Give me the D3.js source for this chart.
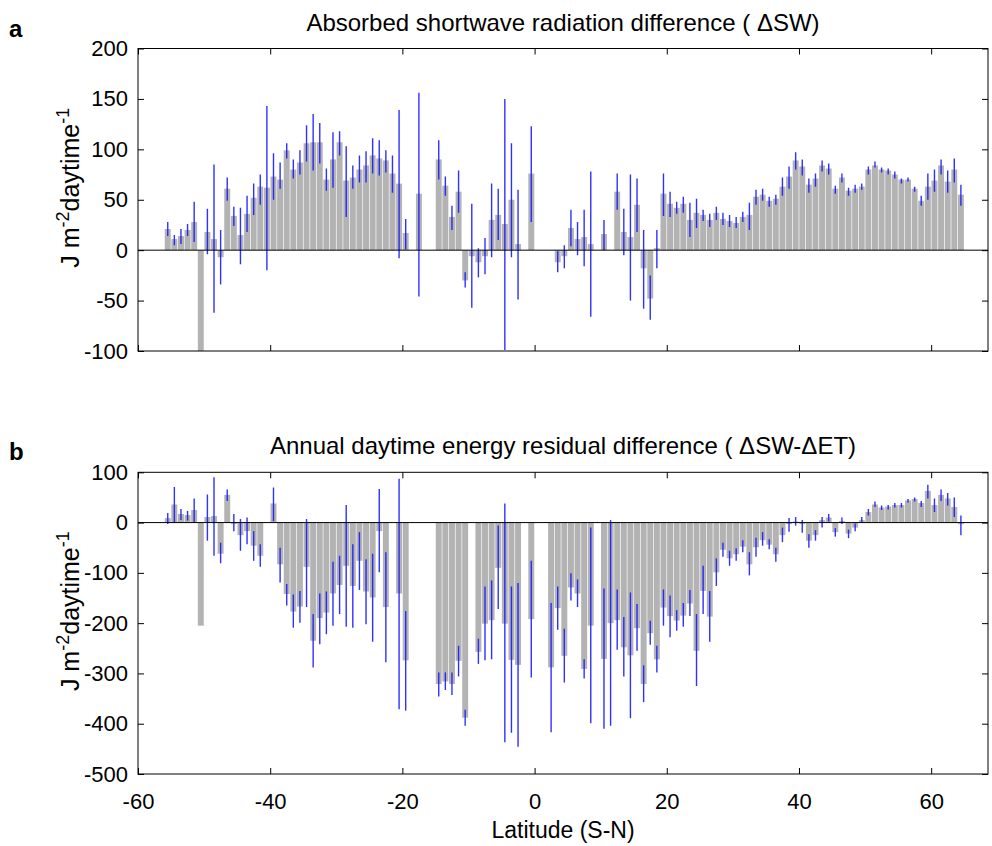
<!DOCTYPE html>
<html><head><meta charset="utf-8">
<script src="https://cdn.jsdelivr.net/npm/d3@7"></script>
<style>
body{margin:0;background:#fff;}
text{font-family:"Liberation Sans", Arial, Helvetica, sans-serif;fill:#000;}
</style>
</head><body>
<svg id="chart" width="992" height="846"></svg>
<script>
const latitudes = [-55.5,-54.5,-53.5,-52.5,-51.5,-50.5,-49.5,-48.5,-47.5,-46.5,
 -45.5,-44.5,-43.5,-42.5,-41.5,-40.5,-39.5,-38.5,-37.5,-36.5,
 -35.5,-34.5,-33.5,-32.5,-31.5,-30.5,-29.5,-28.5,-27.5,-26.5,
 -25.5,-24.5,-23.5,-22.5,-21.5,-20.5,-19.5,-18.5,-17.5,-16.5,
 -15.5,-14.5,-13.5,-12.5,-11.5,-10.5,-9.5,-8.5,-7.5,-6.5,
 -5.5,-4.5,-3.5,-2.5,-1.5,-0.5,0.5,1.5,2.5,3.5,
 4.5,5.5,6.5,7.5,8.5,9.5,10.5,11.5,12.5,13.5,
 14.5,15.5,16.5,17.5,18.5,19.5,20.5,21.5,22.5,23.5,
 24.5,25.5,26.5,27.5,28.5,29.5,30.5,31.5,32.5,33.5,
 34.5,35.5,36.5,37.5,38.5,39.5,40.5,41.5,42.5,43.5,
 44.5,45.5,46.5,47.5,48.5,49.5,50.5,51.5,52.5,53.5,
 54.5,55.5,56.5,57.5,58.5,59.5,60.5,61.5,62.5,63.5,
 64.5];

// Panel a: absorbed shortwave radiation difference
const swValues = [21,11,14,20,28,-100,18,11,-7,61,
 34,15,36,52,63,62,73,70,99,80,
 87,106,107,107,70,90,107,69,72,80,
 84,94,91,89,76,66,17,null,56,null,
 null,90,64,33,58,-30,-6,-12,-6,30,
 35,26,50,6,null,76,null,null,null,-12,
 -6,22,11,13,6,null,16,null,58,18,
 13,45,-18,-48,2,56,46,42,46,30,
 37,35,30,37,31,29,27,33,35,53,
 55,49,51,63,73,89,83,65,71,84,
 81,61,72,59,61,63,80,84,80,79,
 75,70,70,61,49,63,69,84,68,80,
 55];
const swUpper = [28,15,21,26,48,null,41,85,20,72,
 43,42,54,66,75,143,96,87,106,90,
 99,124,135,126,81,117,118,103,84,94,
 98,111,109,99,94,139,31,null,156,null,
 null,109,73,44,79,-22,46,2,12,66,
 61,150,106,60,null,123,null,null,null,-1,
 5,40,28,40,78,null,30,null,76,41,
 75,71,20,-25,20,76,58,48,53,47,
 51,40,36,43,37,35,33,38,47,60,
 61,53,55,72,83,97,90,71,76,89,
 86,64,76,62,65,66,83,88,82,81,
 78,71,72,63,54,76,80,90,79,91,
 65];
const swLower = [14,5,6,14,8,null,-4,-62,-34,49,
 24,-14,18,35,45,-20,50,61,91,71,
 75,88,79,86,59,62,94,33,61,67,
 67,76,74,77,57,-8,1,null,-46,null,
 null,70,54,20,37,-37,-57,-27,-24,-7,
 10,-99,-7,-49,null,28,null,null,null,-22,
 -18,4,-5,-16,-66,null,0,null,40,-5,
 -50,18,-58,-69,-18,34,33,36,37,13,
 22,29,23,30,25,23,22,28,20,45,
 49,43,45,54,61,80,74,57,63,78,
 75,56,67,54,57,60,75,82,77,75,
 71,66,68,58,44,50,58,75,57,67,
 44];

// Panel b: annual daytime energy residual difference
const resValues = [9,36,17,15,25,-205,11,13,-62,55,
 -3,-25,-17,-46,-66,null,38,-83,-142,-177,
 -167,-88,-235,-190,-179,-141,-124,-86,-126,-76,
 -137,-149,-17,-168,null,-141,-274,null,null,null,
 null,-321,-316,-321,-275,-388,null,-257,-201,-194,
 -90,-201,-273,-283,null,-192,null,null,-288,-170,
 -265,-129,-141,-291,-205,null,-271,-200,-194,-248,
 -264,-210,-321,-220,-272,-169,-186,-195,-185,-161,
 -255,-136,-187,-99,-54,-71,-63,-48,-83,-49,
 -35,-44,-63,-25,-3,2,-3,-36,-25,5,
 10,-19,3,-22,-10,5,21,36,30,32,
 35,35,44,47,39,63,35,55,48,31,
 -3];
const resUpper = [19,71,27,23,48,null,56,90,-40,66,
 17,7,10,-17,-43,null,70,-50,-122,-143,
 -136,7,-182,-141,-137,-78,-66,35,-43,-19,
 -73,-62,67,-59,null,87,-176,null,null,null,
 null,-298,-298,-298,-245,-372,null,-231,-127,-115,
 -6,38,-127,-120,null,-76,null,null,-160,-127,
 -211,-101,-113,-272,-10,null,-131,5,-133,-188,
 -139,-162,-284,-195,-245,-133,-145,-174,-160,-134,
 -182,-86,-136,-71,-40,-56,-51,-35,-59,-30,
 -19,-33,-50,-10,9,11,5,-23,-15,11,
 17,-11,10,-14,-2,11,27,42,34,35,
 39,39,47,50,43,75,48,66,59,50,
 14];
const resLower = [-3,0,5,4,0,null,-36,-66,-81,43,
 -17,-56,-43,-76,-88,null,3,-119,-165,-209,
 -199,-168,-288,-242,-222,-205,-182,-207,-209,-134,
 -202,-237,-99,-278,null,-371,-374,null,null,null,
 null,-346,-333,-343,-306,-404,null,-281,-274,-272,
 -172,-437,-418,-446,null,-308,null,null,-417,-213,
 -318,-155,-168,-310,-399,null,-410,-404,-253,-306,
 -389,-255,-357,-243,-298,-205,-228,-215,-207,-186,
 -325,-182,-237,-126,-68,-86,-76,-59,-105,-68,
 -46,-53,-78,-39,-18,-6,-20,-50,-36,-10,
 2,-28,-3,-31,-17,1,14,31,25,26,
 30,30,40,42,31,48,21,43,34,11,
 -25];

const xTicks = [-60,-40,-20,0,20,40,60];
const swTicks = [200,150,100,50,0,-50,-100];
const resTicks = [100,0,-100,-200,-300,-400,-500];

const svg = d3.select("#chart");
const L = 138, R = 988;
const x = d3.scaleLinear().domain([-60, 68.6]).range([L, R]);
const barW = (x(1) - x(0)) * 0.9;
const plain = d => String(d);

function panel(id, top, bottom, yDomain, ticks, vals, up, lo, title, letter, showX) {
  const y = d3.scaleLinear().domain(yDomain).range([bottom, top]);
  const g = svg.append("g");
  g.append("clipPath").attr("id", "clip" + id).append("rect")
    .attr("x", L).attr("y", top).attr("width", R - L).attr("height", bottom - top);
  const pg = g.append("g").attr("clip-path", `url(#clip${id})`);
  const rows = latitudes.map((lat, i) => ({lat, v: vals[i], hi: up[i], lo: lo[i]}));
  pg.selectAll("rect.bar").data(rows.filter(d => d.v !== null)).join("rect")
    .attr("class", "bar")
    .attr("x", d => x(d.lat) - barW / 2)
    .attr("y", d => Math.min(y(d.v), y(0)))
    .attr("width", barW)
    .attr("height", d => Math.abs(y(d.v) - y(0)))
    .attr("fill", "#b3b3b3");
  pg.selectAll("line.err").data(rows.filter(d => d.v !== null && d.hi !== null)).join("line")
    .attr("class", "err")
    .attr("x1", d => x(d.lat)).attr("x2", d => x(d.lat))
    .attr("y1", d => y(d.hi)).attr("y2", d => y(d.lo))
    .attr("stroke", "#1a1aff").attr("stroke-width", 1.4).attr("stroke-opacity", 0.9);
  g.append("line").attr("x1", L).attr("x2", R).attr("y1", y(0)).attr("y2", y(0))
    .attr("stroke", "#000").attr("stroke-width", 1);

  const fs = "22px";
  const ax = (axis, tr) => {
    const a = g.append("g").attr("transform", tr).call(axis);
    a.select(".domain").remove();
    a.selectAll("line").attr("stroke", "#000");
    a.selectAll("text").style("font-size", fs).style("font-family", '"Liberation Sans", Arial, sans-serif');
    return a;
  };
  ax(d3.axisLeft(y).tickValues(ticks).tickSize(-6).tickPadding(10).tickFormat(plain), `translate(${L},0)`);
  ax(d3.axisRight(y).tickValues(ticks).tickSize(-6).tickFormat(""), `translate(${R},0)`);
  ax(d3.axisTop(x).tickValues(xTicks).tickSize(-6).tickFormat(""), `translate(0,${top})`);
  ax(d3.axisBottom(x).tickValues(xTicks).tickSize(-6).tickPadding(19)
      .tickFormat(showX ? plain : ""), `translate(0,${bottom})`);
  g.append("rect").attr("x", L).attr("y", top).attr("width", R - L).attr("height", bottom - top)
    .attr("fill", "none").attr("stroke", "#000").attr("stroke-width", 1);

  g.append("text").attr("x", (L + R) / 2).attr("y", top - 18).attr("text-anchor", "middle")
    .style("font-size", "24px").text(title);
  g.append("text").attr("x", 9).attr("y", top - 12).style("font-size", "24px")
    .style("font-weight", "bold").text(letter);
  const yl = g.append("text")
    .attr("transform", `translate(79,${(top + bottom) / 2 - 12}) rotate(-90)`)
    .attr("text-anchor", "middle").style("font-size", "25px");
  yl.append("tspan").text("J m");
  yl.append("tspan").attr("dy", -10).style("font-size", "18px").text("-2");
  yl.append("tspan").attr("dy", 10).text("daytime");
  yl.append("tspan").attr("dy", -10).style("font-size", "18px").text("-1");
  return y;
}

panel("a", 48.5, 351, [-100, 200], swTicks, swValues, swUpper, swLower,
  "Absorbed shortwave radiation difference ( \u0394SW)", "a", false);
panel("b", 472.3, 774, [-500, 100], resTicks, resValues, resUpper, resLower,
  "Annual daytime energy residual difference ( \u0394SW-\u0394ET)", "b", true);

svg.append("text").attr("x", (L + R) / 2).attr("y", 838).attr("text-anchor", "middle")
  .style("font-size", "23px").text("Latitude (S-N)");
</script>
</body></html>
